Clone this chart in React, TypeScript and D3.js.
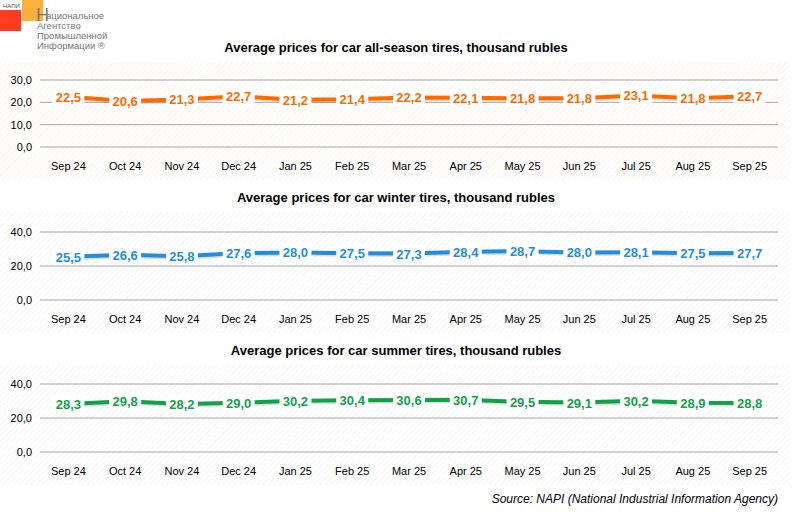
import React from 'react'
import * as d3 from 'd3'

const months = ['Sep 24', 'Oct 24', 'Nov 24', 'Dec 24', 'Jan 25', 'Feb 25', 'Mar 25', 'Apr 25', 'May 25', 'Jun 25', 'Jul 25', 'Aug 25', 'Sep 25']
const allSeason = [22.5, 20.6, 21.3, 22.7, 21.2, 21.4, 22.2, 22.1, 21.8, 21.8, 23.1, 21.8, 22.7]
const winter = [25.5, 26.6, 25.8, 27.6, 28.0, 27.5, 27.3, 28.4, 28.7, 28.0, 28.1, 27.5, 27.7]
const summer = [28.3, 29.8, 28.2, 29.0, 30.2, 30.4, 30.6, 30.7, 29.5, 29.1, 30.2, 28.9, 28.8]
const ticksA = [0, 10, 20, 30]
const ticksB = [0, 20, 40]

const fmt = (v: number) => v.toFixed(1).replace('.', ',')

interface PanelProps {
  id: string
  title: string
  values: number[]
  ticks: number[]
  color: string
  hatch: string
  top: number
  y0: number
  y1: number
}

function Panel({ id, title, values, ticks, color, hatch, top, y0, y1 }: PanelProps) {
  const x = d3.scaleBand().domain(months).range([40, 778])
  const y = d3.scaleLinear().domain([0, d3.max(ticks)!]).range([y0, y1])
  const cx = (m: string) => (x(m) || 0) + x.bandwidth() / 2
  const line = d3.line<number>().x((_, i) => cx(months[i])).y(d => y(d))
  return (
    <g>
      <defs>
        <pattern id={`h-${id}`} width={4} height={4} patternUnits="userSpaceOnUse" patternTransform="rotate(45)">
          <line x1={0} y1={0} x2={0} y2={4} stroke={hatch} strokeWidth={1.2} />
        </pattern>
      </defs>
      <rect x={0} y={top + 20} width={790} height={y0 - top + 13} fill={`url(#h-${id})`} />
      <text x={396} y={top + 10} textAnchor="middle" fontSize={13} fontWeight="bold" fill="#000">{title}</text>
      {ticks.map(t => (
        <g key={t}>
          <line x1={40} x2={778} y1={y(t)} y2={y(t)} stroke="#a6a6a6" strokeWidth={1} />
          <text x={32} y={y(t) + 4} textAnchor="end" fontSize={11} fill="#000">{fmt(t)}</text>
        </g>
      ))}
      {months.map(m => (
        <text key={m} x={cx(m)} y={y0 + 23} textAnchor="middle" fontSize={11} fill="#000">{m}</text>
      ))}
      <path d={line(values) || ''} fill="none" stroke="#7f7f7f" strokeOpacity={0.25} strokeWidth={4} transform="translate(1,1.5)" />
      <path d={line(values) || ''} fill="none" stroke={color} strokeWidth={4} />
      {values.map((v, i) => (
        <g key={i}>
          <rect x={cx(months[i]) - 16} y={y(v) - 9} width={32} height={17} fill="#fff" />
          <text x={cx(months[i])} y={y(v) + 5} textAnchor="middle" fontSize={13} fontWeight="bold" fill={color}>{fmt(v)}</text>
        </g>
      ))}
    </g>
  )
}

export default function App() {
  return (
    <svg width={801} height={512} style={{ position: 'absolute', left: 0, top: 0, fontFamily: 'Arial, "Liberation Sans", sans-serif' }}>
      <rect width={801} height={512} fill="#fff" />
      <rect x={0} y={10} width={21} height={21} fill="#ff3c1e" />
      <rect x={22} y={0} width={21} height={21} fill="#fbb03b" />
      <text x={3} y={8} fontSize={6} fill="#555">НАПИ</text>
      <text x={36} y={21} fontSize={18} fill="#777" fontFamily="Liberation Sans Narrow, sans-serif">Н</text>
      {['ациональное', 'Агентство', 'Промышленной', 'Информации ®'].map((t, i) => (
        <text key={t} x={i === 0 ? 46 : 37} y={19 + i * 10} fontSize={9.5} fill="#777" fontFamily="Liberation Sans Narrow, sans-serif">{t}</text>
      ))}
      <Panel id="a" title="Average prices for car all-season tires, thousand rubles" values={allSeason} ticks={ticksA}
        color="#ff6a00" hatch="#fdeade" top={42} y0={147} y1={80} />
      <Panel id="b" title="Average prices for car winter tires, thousand rubles" values={winter} ticks={ticksB}
        color="#1f8de0" hatch="#efefef" top={192} y0={300} y1={232} />
      <Panel id="c" title="Average prices for car summer tires, thousand rubles" values={summer} ticks={ticksB}
        color="#12a14a" hatch="#efefef" top={345} y0={452} y1={384} />
      <text x={778} y={503} textAnchor="end" fontSize={12} fontStyle="italic" fill="#000">Source: NAPI (National Industrial Information Agency)</text>
    </svg>
  )
}
